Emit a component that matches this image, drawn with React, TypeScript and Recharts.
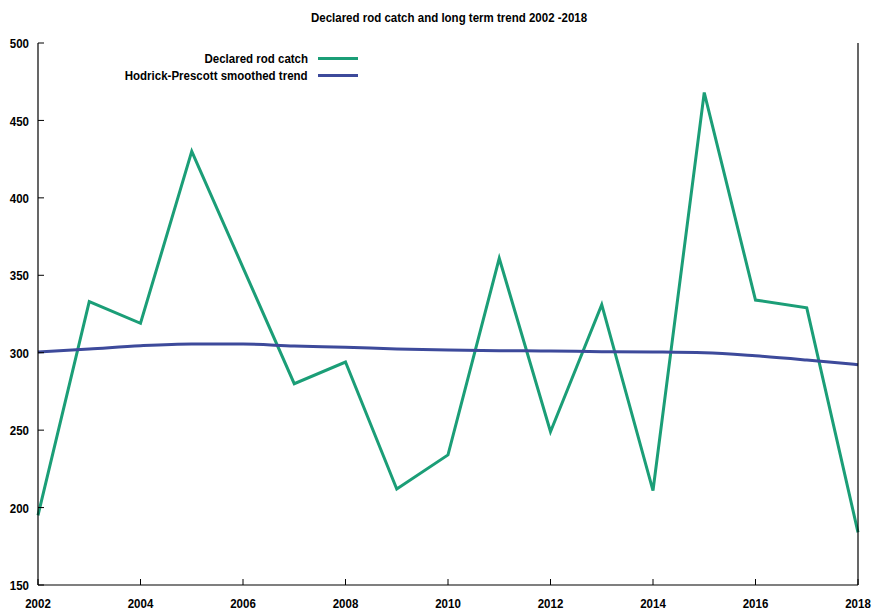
import React from 'react';
import { LineChart, Line, XAxis, YAxis, Legend } from 'recharts';

const years = [2002, 2003, 2004, 2005, 2006, 2007, 2008, 2009, 2010, 2011, 2012, 2013, 2014, 2015, 2016, 2017, 2018];
const catchValues = [195, 333, 319, 430, 355, 280, 294, 212, 234, 361, 249, 331, 211, 468, 334, 329, 184];
const trendValues = [300.5, 302.4, 304.5, 305.6, 305.6, 304.3, 303.5, 302.4, 301.7, 301.3, 301.1, 300.7, 300.5, 300.0, 298.0, 295.3, 292.3];
const xTicks = [2002, 2004, 2006, 2008, 2010, 2012, 2014, 2016, 2018];
const yTicks = [150, 200, 250, 300, 350, 400, 450, 500];
const title = 'Declared rod catch and long term trend 2002 -2018';
const catchName = 'Declared rod catch';
const trendName = 'Hodrick-Prescott smoothed trend';

const data = years.map((y, i) => ({ year: y, catch: catchValues[i], trend: trendValues[i] }));

const FONT = '"Liberation Sans", Arial, sans-serif';
const GREEN = '#1b9e77';
const BLUE = '#3d4a9b';
const SX = 0.885;

const XTick = (props: any) => {
  const { x, y, payload } = props;
  return (
    <g transform={`translate(${x},${y})`}>
      <text
        transform={`scale(${SX},1)`}
        textAnchor="middle"
        dy="0.71em"
        fill="#000"
        fontSize={13}
        fontWeight="bold"
        fontFamily={FONT}
      >
        {payload.value}
      </text>
    </g>
  );
};

const YTick = (props: any) => {
  const { x, y, payload } = props;
  return (
    <g transform={`translate(${x},${y})`}>
      <text
        transform={`scale(${SX},1)`}
        textAnchor="end"
        dy="0.4em"
        fill="#000"
        fontSize={13}
        fontWeight="bold"
        fontFamily={FONT}
      >
        {payload.value}
      </text>
    </g>
  );
};

const renderLegend = (props: any) => {
  const { payload } = props;
  return (
    <div style={{ fontFamily: FONT, fontWeight: 'bold', fontSize: 13 }}>
      {payload.map((p: any) => (
        <div key={p.value} style={{ display: 'flex', alignItems: 'center', height: 17 }}>
          <span style={{ width: 208, textAlign: 'right', color: '#000', whiteSpace: 'nowrap' }}>
            <span style={{ display: 'inline-block', transform: `scaleX(${SX})`, transformOrigin: 'right center' }}>
              {p.value}
            </span>
          </span>
          <span style={{ width: 10 }} />
          <span style={{ width: 40, height: 3, background: p.color, display: 'inline-block' }} />
        </div>
      ))}
    </div>
  );
};

export default function App() {
  return (
    <div style={{ position: 'absolute', left: 0, top: 0, width: 872, height: 610, background: '#fff' }}>
      <div
        style={{
          position: 'absolute',
          left: 0,
          width: 899,
          top: 10,
          textAlign: 'center',
          fontFamily: FONT,
          fontWeight: 'bold',
          fontSize: 13,
          color: '#000',
        }}
      >
        <span style={{ display: 'inline-block', transform: `scaleX(${SX})`, transformOrigin: 'center' }}>{title}</span>
      </div>
      <LineChart width={872} height={610} data={data} margin={{ top: 43, right: 0, bottom: 0, left: 0 }}>
        <XAxis
          dataKey="year"
          type="number"
          domain={[2002, 2018]}
          ticks={xTicks}
          interval={0}
          height={25}
          tickSize={-6}
          tickMargin={20}
          axisLine={{ stroke: '#000', strokeWidth: 1.2 }}
          tickLine={{ stroke: '#000' }}
          tick={<XTick />}
        />
        <XAxis
          xAxisId="top"
          orientation="top"
          dataKey="year"
          type="number"
          domain={[2002, 2018]}
          ticks={xTicks}
          interval={0}
          height={0}
          tickSize={-6}
          tick={false}
          axisLine={{ stroke: '#000', strokeWidth: 1.2 }}
          tickLine={{ stroke: '#000' }}
        />
        <YAxis
          domain={[150, 500]}
          ticks={yTicks}
          interval={0}
          width={38}
          tickSize={-6}
          tickMargin={15}
          axisLine={{ stroke: '#000', strokeWidth: 1.2 }}
          tickLine={{ stroke: '#000' }}
          tick={<YTick />}
        />
        <YAxis
          yAxisId="right"
          orientation="right"
          domain={[150, 500]}
          ticks={yTicks}
          interval={0}
          width={14}
          tickSize={-6}
          tick={false}
          axisLine={{ stroke: '#000', strokeWidth: 1.2 }}
          tickLine={{ stroke: '#000' }}
        />
        <Legend
          layout="vertical"
          align="center"
          verticalAlign="middle"
          content={renderLegend}
          wrapperStyle={{ position: 'absolute', left: 100, top: 50, width: 260, height: 34 }}
        />
        <Line
          name={catchName}
          dataKey="catch"
          type="linear"
          stroke={GREEN}
          strokeWidth={3}
          dot={false}
          isAnimationActive={false}
        />
        <Line
          name={trendName}
          dataKey="trend"
          type="monotone"
          stroke={BLUE}
          strokeWidth={3}
          dot={false}
          isAnimationActive={false}
        />
      </LineChart>
    </div>
  );
}
